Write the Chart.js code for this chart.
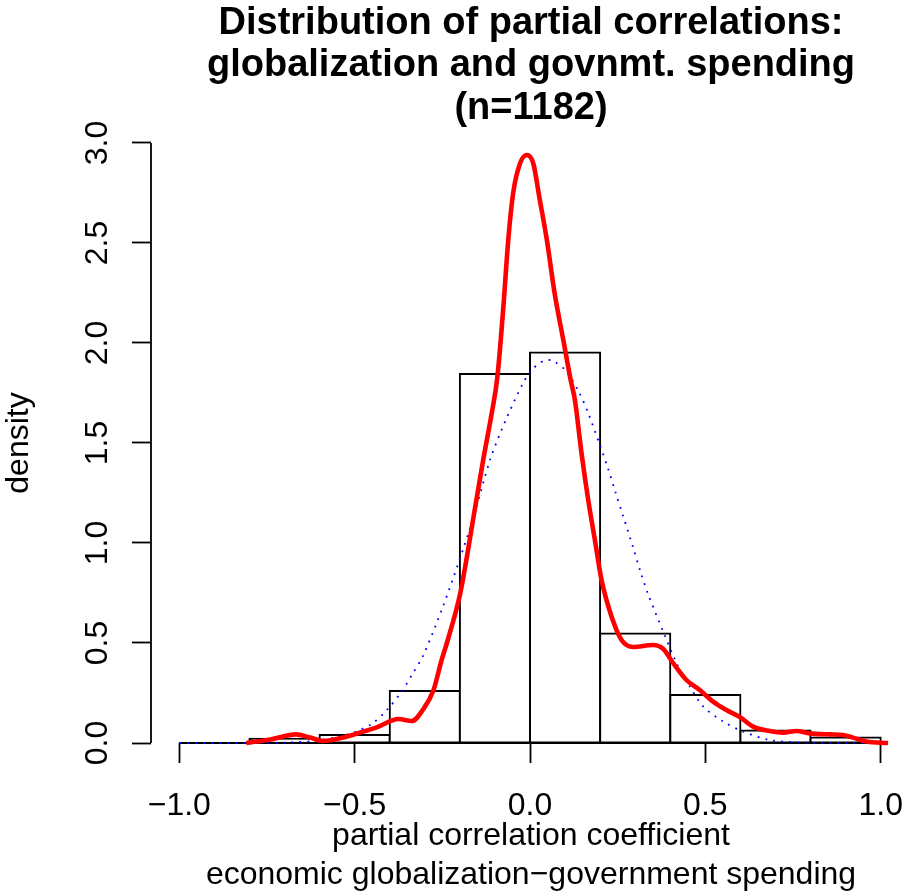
<!DOCTYPE html>
<html>
<head>
<meta charset="utf-8">
<script src="https://cdn.jsdelivr.net/npm/chart.js@4.4.1/dist/chart.umd.min.js"></script>
<style>
  html, body { margin: 0; padding: 0; background: #fff; overflow: hidden; }
  #wrap { width: 911px; height: 896px; }
</style>
</head>
<body>
<div id="wrap"><canvas id="chart" width="911" height="896"></canvas></div>
<script>
// histogram bins (left edges) and densities
const binLeft = [-0.8, -0.6, -0.4, -0.2, 0.0, 0.2, 0.4, 0.6, 0.8];
const binWidth = 0.2;
const binDensity = [0.021, 0.04, 0.26, 1.845, 1.953, 0.547, 0.24, 0.063, 0.027];

// kernel density (red)
const kdeX = [-0.809, -0.74, -0.667, -0.627, -0.589, -0.532, -0.475, -0.437, -0.375, -0.337,
  -0.304, -0.275, -0.252, -0.237, -0.199, -0.18, -0.161, -0.133, -0.109, -0.093, -0.076, -0.062,
  -0.048, -0.028, -0.009, 0.009, 0.028, 0.048, 0.071, 0.095, 0.116, 0.128, 0.147, 0.166,
  0.185, 0.204, 0.233, 0.261, 0.294, 0.351, 0.38, 0.408, 0.446, 0.484, 0.522, 0.56, 0.598,
  0.636, 0.684, 0.722, 0.76, 0.798, 0.855, 0.893, 0.921, 0.959, 1.021];
const kdeY = [0.0, 0.018, 0.043, 0.027, 0.01, 0.028, 0.057, 0.078, 0.12, 0.11,
  0.17, 0.265, 0.415, 0.5, 0.748, 0.93, 1.13, 1.42, 1.65, 1.83, 2.18, 2.515,
  2.75, 2.9, 2.94, 2.9, 2.715, 2.515, 2.24, 2.015, 1.815, 1.715, 1.448, 1.215,
  1.015, 0.815, 0.63, 0.515, 0.48, 0.49, 0.47, 0.4, 0.315, 0.265, 0.207, 0.165, 0.13,
  0.082, 0.06, 0.052, 0.06, 0.048, 0.043, 0.04, 0.027, 0.007, 0.0];

// normal curve (blue dotted)
const normX = [-1.0, -0.8, -0.7, -0.618, -0.551, -0.5, -0.45, -0.408, -0.366, -0.337, -0.304,
  -0.252, -0.204, -0.161, -0.114, -0.071, -0.021, 0.005, 0.041, 0.065, 0.102, 0.139, 0.167,
  0.199, 0.223, 0.244, 0.266, 0.294, 0.315, 0.337, 0.382, 0.418, 0.456, 0.494, 0.551, 0.608,
  0.684, 0.779, 0.9, 1.0];
const normY = [0.0, 0.0, 0.002, 0.01, 0.03, 0.055, 0.097, 0.165, 0.257, 0.34, 0.44,
  0.665, 0.9, 1.13, 1.415, 1.607, 1.795, 1.865, 1.913, 1.91, 1.862, 1.757, 1.645,
  1.49, 1.37, 1.252, 1.132, 0.978, 0.857, 0.743, 0.548, 0.4, 0.282, 0.182, 0.107, 0.057,
  0.015, 0.002, 0.0, 0.0];

const xTicks = [-1, -0.5, 0, 0.5, 1];
const xTickLabels = ['\u22121.0', '\u22120.5', '0.0', '0.5', '1.0'];
const yTicks = [0, 0.5, 1, 1.5, 2, 2.5, 3];
const yTickLabels = ['0.0', '0.5', '1.0', '1.5', '2.0', '2.5', '3.0'];

const FONT = "'Liberation Sans', Arial, Helvetica, sans-serif";
Chart.defaults.font.family = FONT;
Chart.defaults.color = '#000';

// R style axes: lines only across the tick range, rotated y labels
const rAxes = {
  id: 'rAxes',
  beforeDatasetsDraw(chart) {
    const { ctx, scales: { x, y } } = chart;
    ctx.save();
    ctx.strokeStyle = '#000';
    ctx.lineWidth = 1.8;
    ctx.beginPath();
    ctx.moveTo(x.getPixelForValue(xTicks[0]), y.getPixelForValue(0));
    ctx.lineTo(x.getPixelForValue(xTicks[xTicks.length - 1]), y.getPixelForValue(0));
    ctx.moveTo(x.left, y.getPixelForValue(yTicks[0]));
    ctx.lineTo(x.left, y.getPixelForValue(yTicks[yTicks.length - 1]));
    ctx.stroke();
    ctx.restore();
  },
  afterDraw(chart) {
    const { ctx, scales: { y } } = chart;
    ctx.save();
    ctx.fillStyle = '#000';
    ctx.font = '32px ' + FONT;
    ctx.textAlign = 'center';
    ctx.textBaseline = 'middle';
    yTicks.forEach((v, i) => {
      ctx.save();
      ctx.translate(98, y.getPixelForValue(v));
      ctx.rotate(-Math.PI / 2);
      ctx.fillText(yTickLabels[i], 0, 0);
      ctx.restore();
    });
    ctx.restore();
  }
};

new Chart(document.getElementById('chart'), {
  type: 'bar',
  data: {
    datasets: [
      {
        type: 'line',
        data: kdeX.map((v, i) => ({ x: v, y: kdeY[i] })),
        borderColor: '#ff0000',
        borderWidth: 4.6,
        pointRadius: 0,
        cubicInterpolationMode: 'monotone',
        fill: false,
        clip: false
      },
      {
        type: 'line',
        data: normX.map((v, i) => ({ x: v, y: normY[i] })),
        borderColor: '#0000ff',
        borderWidth: 1.8,
        borderDash: [1.8, 6.2],
        pointRadius: 0,
        tension: 0.3,
        fill: false,
        clip: false
      },
      {
        type: 'bar',
        data: binLeft.map((l, i) => ({ x: l + binWidth / 2, y: binDensity[i] })),
        backgroundColor: '#ffffff',
        borderColor: '#000000',
        borderWidth: 2,
        inflateAmount: 1,
        borderSkipped: false,
        barPercentage: 1,
        categoryPercentage: 1,
        clip: false
      }
    ]
  },
  options: {
    responsive: false,
    animation: false,
    layout: { padding: 0 },
    plugins: {
      legend: { display: false },
      tooltip: { enabled: false },
      title: {
        display: true,
        fullSize: false,
        text: ['Distribution of partial correlations:', 'globalization and govnmt. spending', '(n=1182)'],
        font: { size: 38, weight: 'bold', lineHeight: 1.12 },
        color: '#000',
        padding: { top: 2, bottom: 13.3 }
      }
    },
    scales: {
      x: {
        type: 'linear',
        min: -1.0807,
        max: 1.0864,
        offset: false,
        afterBuildTicks: s => { s.ticks = xTicks.map(v => ({ value: v })); },
        afterFit: s => { s.height = 153; },
        ticks: {
          autoSkip: false,
          maxRotation: 0,
          padding: 0,
          font: { size: 32, lineHeight: 2.7 },
          callback: (v, i) => xTickLabels[i]
        },
        grid: { offset: false, drawOnChartArea: false, tickLength: 20, tickColor: '#000', tickWidth: 1.8 },
        border: { display: false },
        title: {
          display: true,
          text: ['partial correlation coefficient', 'economic globalization\u2212government spending'],
          font: { size: 32, lineHeight: 1.22 },
          padding: { top: 0, bottom: 1 }
        }
      },
      y: {
        type: 'linear',
        min: 0,
        max: 3,
        afterBuildTicks: s => { s.ticks = yTicks.map(v => ({ value: v })); },
        afterFit: s => { s.width = 151; },
        ticks: { display: false },
        grid: { drawOnChartArea: false, tickLength: 19, tickColor: '#000', tickWidth: 1.8 },
        border: { display: false },
        title: {
          display: true,
          text: 'density',
          font: { size: 32, lineHeight: 1.2 },
          padding: { top: 0, bottom: 0 }
        }
      }
    }
  },
  plugins: [rAxes]
});
</script>
</body>
</html>
